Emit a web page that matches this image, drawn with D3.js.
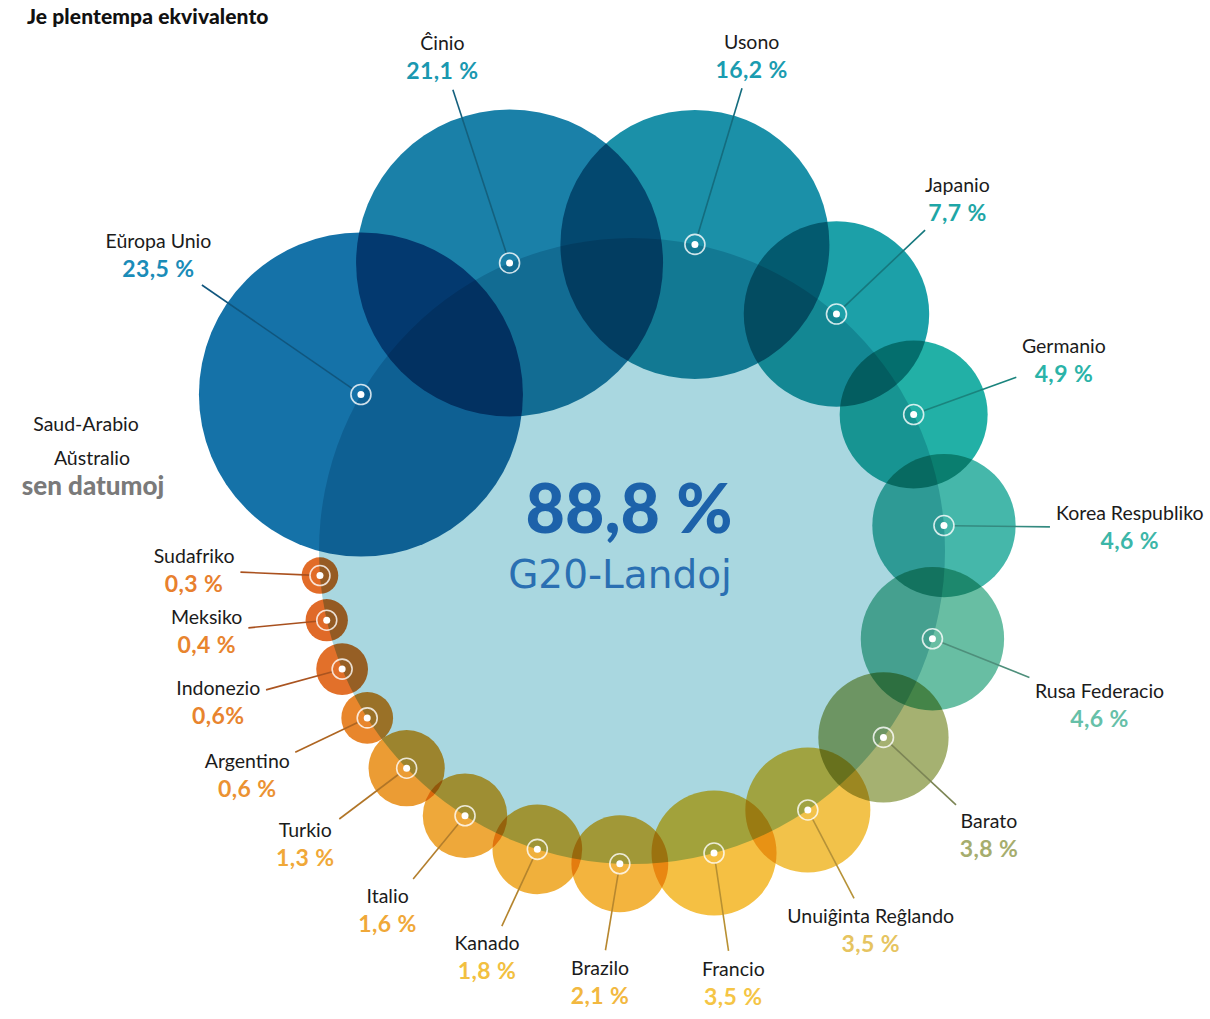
<!DOCTYPE html>
<html>
<head>
<meta charset="utf-8">
<script src="https://cdn.jsdelivr.net/npm/d3@7"></script>
<style>
  body { margin: 0; background: #fff; }
  svg { display: block; }
  .name { font-family: Lato, "Noto Sans", sans-serif; font-size: 19.5px; fill: #1b1b1b; }
  .pct { font-family: Lato, "Noto Sans", sans-serif; font-size: 23px; font-weight: 700; letter-spacing: 0.4px; }
</style>
</head>
<body>
<div id="chart"></div>
<script>
// countries in order around the ring, starting at the left (Sudafriko) and going clockwise
const countries = ['Sudafriko', 'Meksiko', 'Indonezio', 'Argentino', 'Turkio', 'Italio', 'Kanado', 'Brazilo',
    'Francio', 'Unuiĝinta Reĝlando', 'Barato', 'Rusa Federacio', 'Korea Respubliko', 'Germanio', 'Japanio',
    'Usono', 'Ĉinio', 'Eŭropa Unio'];
const shares = [0.3, 0.4, 0.6, 0.6, 1.3, 1.6, 1.8, 2.1, 3.5, 3.5, 3.8, 4.6, 4.6, 4.9, 7.7, 16.2, 21.1, 23.5];
const shareLabels = ['0,3 %', '0,4 %', '0,6%', '0,6 %', '1,3 %', '1,6 %', '1,8 %', '2,1 %', '3,5 %', '3,5 %',
    '3,8 %', '4,6 %', '4,6 %', '4,9 %', '7,7 %', '16,2 %', '21,1 %', '23,5 %'];
const totalLabel = '88,8 %';
const totalName = 'G20-Landoj';
const noData = ['Saud-Arabio', 'Aŭstralio'];
const title = 'Je plentempa ekvivalento';

// styles
const bubbleColors = ['#e26c28', '#e06a28', '#e2702a', '#e8862c', '#eb9c34', '#eea83a', '#f0b03c', '#f3b43e',
    '#f5c043', '#f2c24a', '#a5b171', '#68bea3', '#45b7aa', '#22b0a6', '#1ca0a8', '#1b90a8', '#1a80a8', '#1572a8'];
const pctColors = ['#e8802e', '#e8842e', '#e8842e', '#eb9232', '#f0a838', '#f0a838', '#f2c040', '#f2b840',
    '#f5c545', '#e6c460', '#a6ad6e', '#66c0a8', '#3cb6a8', '#2ab3a8', '#1ea6a6', '#1a9cb0', '#1a98b0', '#1a8cb8'];

const width = 1210, height = 1019;
const cx = 632, cy = 551, R = 313;
const startAngle = 175.5, endAngle = -150; // degrees, screen coords

const svg = d3.select('#chart').append('svg')
    .attr('width', width)
    .attr('height', height);

const rScale = d3.scaleSqrt().domain([0, 23.5]).range([0, 162]);

// layout: angular step between neighbours grows with their combined size
const data = countries.map((c, i) => ({
    name: c, value: shares[i], label: shareLabels[i],
    r: rScale(shares[i]), color: bubbleColors[i], pctColor: pctColors[i]
}));
const steps = d3.pairs(data).map(([a, b]) => Math.pow(a.r + b.r, 0.72));
const stepScale = (startAngle - endAngle) / d3.sum(steps);
let ang = startAngle;
data.forEach((d, i) => {
    if (i > 0) ang -= steps[i - 1] * stepScale;
    d.angle = ang * Math.PI / 180;
    d.x = cx + R * Math.cos(d.angle);
    d.y = cy + R * Math.sin(d.angle);
});

// title
svg.append('text')
    .attr('x', 27).attr('y', 24)
    .style('font-family', 'Lato, sans-serif')
    .style('font-weight', 900)
    .style('font-size', '21px')
    .style('letter-spacing', '0.1px')
    .style('fill', '#111')
    .text(title);

// central disc
const plot = svg.append('g').style('isolation', 'isolate');
plot.append('circle')
    .attr('cx', cx).attr('cy', cy).attr('r', R)
    .style('fill', '#a9d7e0');

plot.selectAll('circle.bubble')
    .data(data)
    .join('circle')
    .attr('class', 'bubble')
    .attr('cx', d => d.x)
    .attr('cy', d => d.y)
    .attr('r', d => d.r)
    .style('fill', d => d.color)
    .style('mix-blend-mode', 'multiply');

// labels
const labels = svg.append('g').selectAll('g.label')
    .data(data)
    .join('g')
    .attr('class', 'label');
labels.append('text').attr('class', 'name')
    .attr('text-anchor', 'middle').attr('y', 0)
    .text(d => d.name);
labels.append('text').attr('class', 'pct')
    .attr('text-anchor', 'middle').attr('y', 29)
    .style('fill', d => d.pctColor)
    .text(d => d.label);

labels.each(function (d) {
    const bb = this.getBBox();
    const a = d.angle + 2 * Math.PI / 180;
    const hw = bb.width / 2, hh = bb.height / 2;
    const boxR = Math.min(hw / Math.max(Math.abs(Math.cos(a)), 1e-6), hh / Math.max(Math.abs(Math.sin(a)), 1e-6));
    const gap = 28 + 900 / (d.r + 5);
    const dist = R + d.r + gap + boxR;
    d.lx = cx + dist * Math.cos(a);
    d.ly = cy + dist * Math.sin(a);
    d.hw = hw; d.hh = hh;
    const ox = bb.x + hw, oy = bb.y + hh;
    d3.select(this).attr('transform', `translate(${d.lx - ox},${d.ly - oy})`);
});

// leader lines
const lines = svg.insert('g', 'g:last-of-type');
data.forEach(d => {
    const ux = d.x - d.lx, uy = d.y - d.ly;
    const len = Math.hypot(ux, uy);
    const t = Math.min(d.hw / Math.max(Math.abs(ux), 1e-6), d.hh / Math.max(Math.abs(uy), 1e-6));
    const ex = d.lx + ux * t + ux / len * 6, ey = d.ly + uy * t + uy / len * 6;
    const sx = d.x - ux / len * 10, sy = d.y - uy / len * 10;
    lines.append('line')
        .attr('x1', sx).attr('y1', sy)
        .attr('x2', ex).attr('y2', ey)
        .style('stroke', d3.color(d.color).darker(0.8))
        .style('stroke-width', 1.6);
});

// markers
const marks = svg.append('g');
marks.selectAll('circle.ring')
    .data(data)
    .join('circle')
    .attr('class', 'ring')
    .attr('cx', d => d.x).attr('cy', d => d.y).attr('r', 10)
    .style('fill', 'none')
    .style('stroke', '#fff')
    .style('stroke-opacity', 0.8)
    .style('stroke-width', 1.6);
marks.selectAll('circle.dot')
    .data(data)
    .join('circle')
    .attr('class', 'dot')
    .attr('cx', d => d.x).attr('cy', d => d.y).attr('r', 3.5)
    .style('fill', '#fff');

// total in the middle
svg.append('text')
    .attr('x', cx - 3).attr('y', cy - 18)
    .attr('text-anchor', 'middle')
    .style('font-family', 'Lato, sans-serif')
    .style('font-weight', 900)
    .style('font-size', '68px')
    .style('fill', '#1d62aa')
    .text(totalLabel);
svg.append('text')
    .attr('x', cx - 12).attr('y', cy + 37)
    .attr('text-anchor', 'middle')
    .style('font-family', '"DejaVu Sans", sans-serif')
    .style('font-size', '39px')
    .style('fill', '#2a6fb2')
    .text(totalName);

// countries without data
const nd = svg.append('g');
nd.selectAll('text.nd')
    .data(noData)
    .join('text')
    .attr('class', 'name nd')
    .attr('text-anchor', 'middle')
    .attr('x', (d, i) => 86 + i * 6)
    .attr('y', (d, i) => 431 + i * 34)
    .text(d => d);
nd.append('text')
    .attr('text-anchor', 'middle')
    .attr('x', 93).attr('y', 495)
    .style('font-family', 'Lato, sans-serif')
    .style('font-weight', 900)
    .style('font-size', '26px')
    .style('fill', '#7a7a7a')
    .text('sen datumoj');
</script>
</body>
</html>
